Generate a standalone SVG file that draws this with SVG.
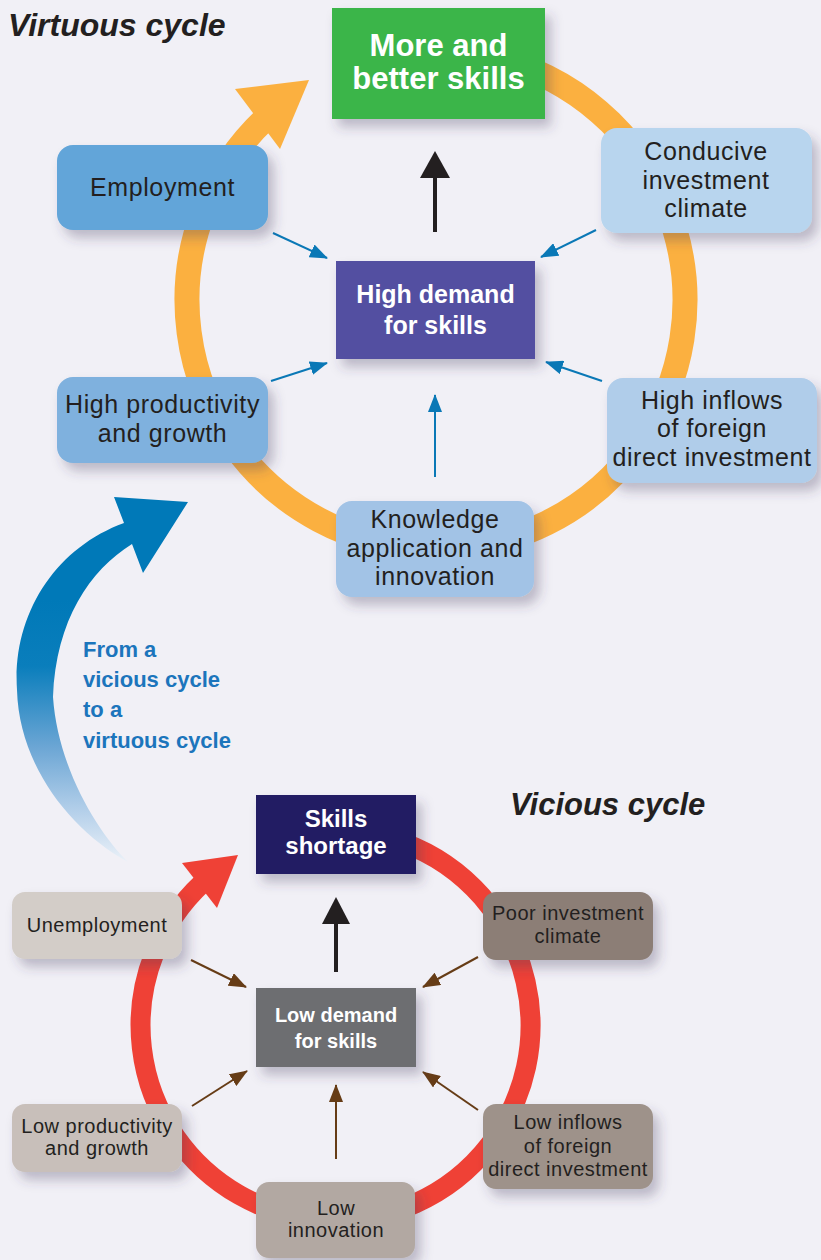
<svg xmlns="http://www.w3.org/2000/svg" width="821" height="1260" viewBox="0 0 821 1260">
<style>
.t{font-family:"Liberation Sans",Arial,sans-serif;fill:#231f20;text-anchor:middle}
.big{font-size:25px;letter-spacing:0.6px}
.sm{font-size:20px;letter-spacing:0.5px}
.wb{font-family:"Liberation Sans",Arial,sans-serif;font-weight:bold;fill:#ffffff;text-anchor:middle}
.title{font-family:"Liberation Sans",Arial,sans-serif;font-weight:bold;font-style:italic;fill:#231f20}
.ba{stroke:#0a78b6;stroke-width:2;fill:none;marker-end:url(#ab)}
.br{stroke:#663c16;stroke-width:2;fill:none;marker-end:url(#abr)}
</style>
<defs>
<filter id="sh" x="-20%" y="-20%" width="150%" height="160%">
<feDropShadow dx="6" dy="8" stdDeviation="6" flood-color="#3d3a5c" flood-opacity="0.3"/>
</filter>
<marker id="ab" viewBox="0 0 18 14" refX="17" refY="7" markerWidth="18" markerHeight="14" markerUnits="userSpaceOnUse" orient="auto"><path d="M0,0 L18,7 L0,14 z" fill="#0a78b6"/></marker>
<marker id="abr" viewBox="0 0 18 14" refX="17" refY="7" markerWidth="18" markerHeight="14" markerUnits="userSpaceOnUse" orient="auto"><path d="M0,0 L18,7 L0,14 z" fill="#663c16"/></marker>
<linearGradient id="bf" gradientUnits="userSpaceOnUse" x1="0" y1="600" x2="0" y2="865">
<stop offset="0" stop-color="#0079b8"/>
<stop offset="0.25" stop-color="#0a7ebc"/>
<stop offset="0.55" stop-color="#6aa5d4"/>
<stop offset="0.8" stop-color="#b5d0ea"/>
<stop offset="1" stop-color="#eef3f9"/>
</linearGradient>
</defs>
<rect x="0" y="0" width="821" height="1260" fill="#f1f0f6"/>

<text class="title" x="8" y="36" font-size="32">Virtuous cycle</text>
<text class="title" x="510" y="815" font-size="31">Vicious cycle</text>

<g id="connectors">
<path d="M392.8 54.8 A249 249 0 1 1 266.2 117.9" fill="none" stroke="#fbb040" stroke-width="25"/>
<polygon points="235,89 309,80 280,149" fill="#fbb040"/>
<path d="M318.5 831.2 A195 195 0 1 1 202.5 882.9" fill="none" stroke="#ef4136" stroke-width="20"/>
<polygon points="182,863 238,855 217,908" fill="#ef4136"/>
<path d="M124 523 L114 497 L188 502 L143 573 L132 544 C90 570 56 620 53 697 C58 770 100 835 128 862 C70 830 19 765 17 690 C12 615 55 548 124 523 Z" fill="url(#bf)"/>
<line x1="435" y1="232" x2="435" y2="176" stroke="#231f20" stroke-width="4"/>
<polygon points="420,178 450,178 435,151" fill="#231f20"/>
<line x1="336" y1="972" x2="336" y2="922" stroke="#231f20" stroke-width="4"/>
<polygon points="322,924 350,924 336,897" fill="#231f20"/>
<line class="ba" x1="273" y1="233" x2="327" y2="258"/>
<line class="ba" x1="596" y1="230" x2="541" y2="257"/>
<line class="ba" x1="271" y1="381" x2="327" y2="363"/>
<line class="ba" x1="602" y1="381" x2="546" y2="362"/>
<line class="ba" x1="435" y1="477" x2="435" y2="395"/>
<line class="br" x1="191" y1="960" x2="246" y2="987"/>
<line class="br" x1="192" y1="1106" x2="247" y2="1071"/>
<line class="br" x1="336" y1="1159" x2="336" y2="1085"/>
<line class="br" x1="478" y1="957" x2="423" y2="987"/>
<line class="br" x1="478" y1="1110" x2="423" y2="1072"/>
</g>

<g id="transition-label" font-family="Liberation Sans, Arial, sans-serif" font-weight="bold" font-size="22" fill="#1c75bc">
<text x="83" y="657">From a</text>
<text x="83" y="687">vicious cycle</text>
<text x="83" y="717">to a</text>
<text x="83" y="748">virtuous cycle</text>
</g>

<g id="more-better-skills">
<rect x="332" y="8" width="213" height="111" fill="#3bb54a" filter="url(#sh)"/>
<text class="wb" x="438.5" y="56" font-size="31">More and</text>
<text class="wb" x="438.5" y="89" font-size="31">better skills</text>
</g>
<g id="employment">
<rect x="57" y="145" width="211" height="85" rx="16" fill="#62a5d9" filter="url(#sh)"/>
<text class="t big" x="162.5" y="196">Employment</text>
</g>
<g id="conducive-investment-climate">
<rect x="601" y="128" width="211" height="105" rx="16" fill="#b8d5ee" filter="url(#sh)"/>
<text class="t big" x="706" y="160">Conducive</text>
<text class="t big" x="706" y="189">investment</text>
<text class="t big" x="706" y="217">climate</text>
</g>
<g id="high-demand">
<rect x="336" y="261" width="199" height="98" fill="#524fa1" filter="url(#sh)"/>
<text class="wb" x="435.5" y="303" font-size="25">High demand</text>
<text class="wb" x="435.5" y="334" font-size="25">for skills</text>
</g>
<g id="high-productivity">
<rect x="57" y="377" width="211" height="86" rx="16" fill="#7fb1de" filter="url(#sh)"/>
<text class="t big" x="162.5" y="413">High productivity</text>
<text class="t big" x="162.5" y="442">and growth</text>
</g>
<g id="high-inflows">
<rect x="607" y="378" width="210" height="105" rx="16" fill="#b0cdea" filter="url(#sh)"/>
<text class="t big" x="712" y="409">High inflows</text>
<text class="t big" x="712" y="437">of foreign</text>
<text class="t big" x="712" y="466">direct investment</text>
</g>
<g id="knowledge-application">
<rect x="336" y="501" width="198" height="96" rx="16" fill="#a2c3e6" filter="url(#sh)"/>
<text class="t big" x="435" y="528">Knowledge</text>
<text class="t big" x="435" y="557">application and</text>
<text class="t big" x="435" y="585">innovation</text>
</g>

<g id="skills-shortage">
<rect x="256" y="795" width="160" height="79" fill="#241f63" filter="url(#sh)"/>
<text class="wb" x="336" y="827" font-size="24">Skills</text>
<text class="wb" x="336" y="854" font-size="24">shortage</text>
</g>
<g id="unemployment">
<rect x="12" y="892" width="170" height="67" rx="13" fill="#d3cdc8" filter="url(#sh)"/>
<text class="t sm" x="97" y="932">Unemployment</text>
</g>
<g id="poor-investment-climate">
<rect x="483" y="892" width="170" height="68" rx="13" fill="#8c7e76" filter="url(#sh)"/>
<text class="t sm" x="568" y="920">Poor investment</text>
<text class="t sm" x="568" y="943">climate</text>
</g>
<g id="low-demand">
<rect x="256" y="988" width="160" height="79" fill="#6d6e71" filter="url(#sh)"/>
<text class="wb" x="336" y="1022" font-size="20">Low demand</text>
<text class="wb" x="336" y="1048" font-size="20">for skills</text>
</g>
<g id="low-productivity">
<rect x="12" y="1104" width="170" height="68" rx="13" fill="#c8bfba" filter="url(#sh)"/>
<text class="t sm" x="97" y="1133">Low productivity</text>
<text class="t sm" x="97" y="1155">and growth</text>
</g>
<g id="low-inflows">
<rect x="483" y="1104" width="170" height="85" rx="13" fill="#9e928a" filter="url(#sh)"/>
<text class="t sm" x="568" y="1129">Low inflows</text>
<text class="t sm" x="568" y="1153">of foreign</text>
<text class="t sm" x="568" y="1176">direct investment</text>
</g>
<g id="low-innovation">
<rect x="256" y="1182" width="159" height="76" rx="13" fill="#b2a8a2" filter="url(#sh)"/>
<text class="t sm" x="336" y="1215">Low</text>
<text class="t sm" x="336" y="1237">innovation</text>
</g>
</svg>
